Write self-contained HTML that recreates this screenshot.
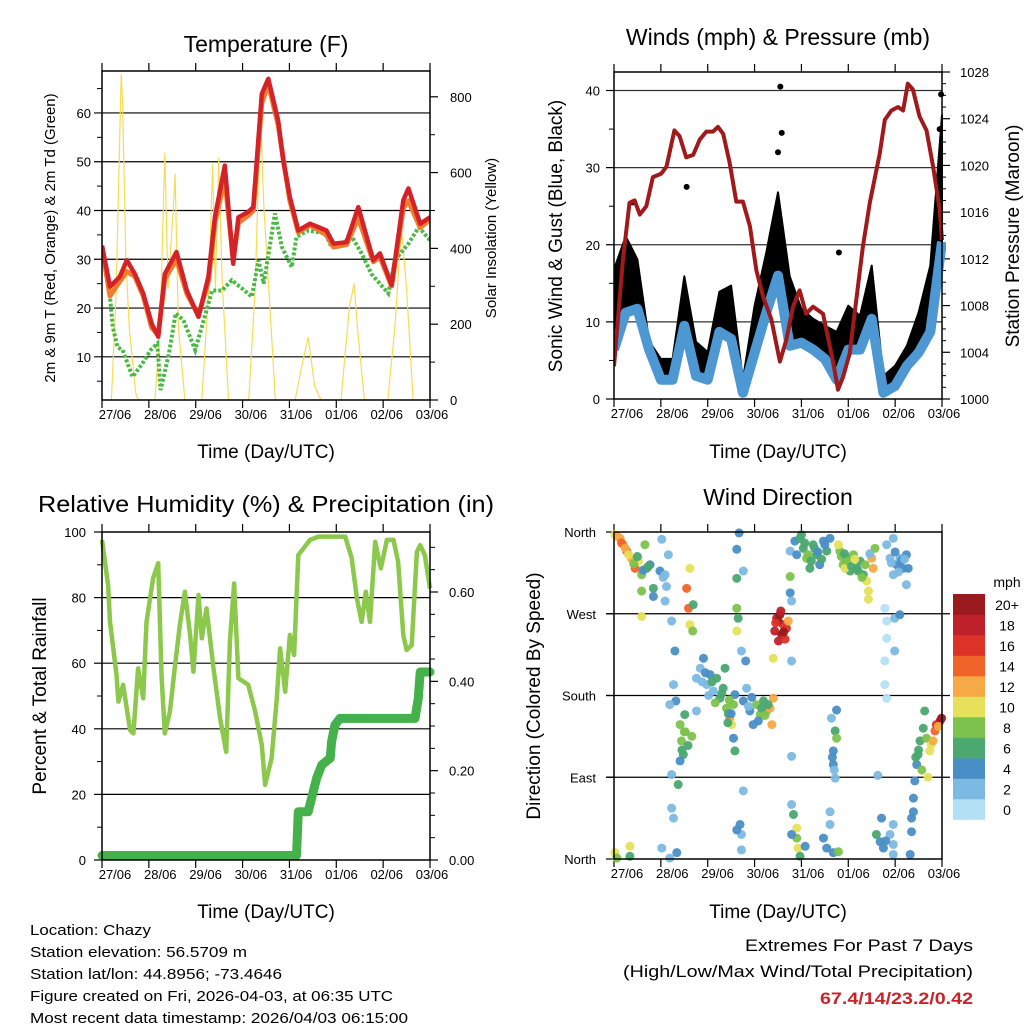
<!DOCTYPE html>
<html><head><meta charset="utf-8"><style>
html,body{margin:0;padding:0;background:#fff;}
svg{display:block;font-family:"Liberation Sans",Arial,sans-serif;}
</style></head><body>
<svg id="chart" width="1024" height="1024" viewBox="0 0 1024 1024" xmlns="http://www.w3.org/2000/svg"></svg>
<script>
// ---------- DATA ----------
const dayLabels = ["27/06","28/06","29/06","30/06","31/06","01/06","02/06","03/06"];
// Temperature panel
const tempTicks = [10,20,30,40,50,60];
const solarTicks = [0,200,400,600,800];
const t2mTime = [0,.17,.38,.53,.70,.88,1.06,1.20,1.34,1.59,1.81,2.06,2.27,2.41,2.62,2.80,2.91,3.12,3.23,3.41,3.55,3.76,3.87,4.01,4.19,4.44,4.79,4.94,5.22,5.47,5.79,5.93,6.18,6.43,6.54,6.79,7];
const t2mVals = [32.8,24.4,26.4,29.8,27,23,16.8,14.1,27,31.5,23.6,18.2,26.4,38.6,49.2,29.1,38.6,39.7,40.7,63.9,67,58.4,50.2,42.7,35.9,37.3,35.9,33.2,33.5,40.7,29.8,31.2,24.7,42.1,44.5,37.3,38.6];
const t9mVals = [32.5,22.5,25.5,27.5,26.5,22.5,16,14.5,26,30,23,18.5,25.5,37.5,46.5,30,37.5,39,40,62,66,57.5,50.5,42,35.5,37,35,32.5,33,38.5,29.5,30.5,24.5,40.5,42,36.5,38.2];
const tdTime = [0,.13,.23,.33,.44,.65,.86,1.04,1.18,1.25,1.43,1.57,1.74,1.99,2.17,2.35,2.56,2.77,2.99,3.2,3.34,3.45,3.59,3.69,3.84,4.05,4.15,4.4,4.76,4.9,5.18,5.29,5.54,5.75,6.11,6.25,6.54,6.76,7];
const tdVals = [32,26.4,16.1,12,11.4,5.9,8.6,11.4,12.7,3.2,10.7,18.9,17.5,11.4,17.5,23.6,23.6,25.7,24,22.3,29.8,25,33.2,39.4,32.5,28.4,34.6,35.9,35.3,32.5,33.2,35.3,31.2,27,23,29.8,33.2,36.6,33.9];
const solarTime = [0,.2,.3,.41,.44,.51,.58,.72,.78,1.13,1.24,1.34,1.41,1.52,1.56,1.63,1.77,2.13,2.28,2.36,2.42,2.49,2.56,2.7,3.13,3.27,3.38,3.45,3.56,3.7,4.12,4.26,4.4,4.54,4.68,5.1,5.28,5.38,5.45,5.6,6.1,6.25,6.39,6.5,6.64,7];
const solarVals = [0,0,281,860,781,368,192,18,0,0,192,652,293,500,597,192,0,0,293,623,293,639,324,0,0,293,763,518,293,0,0,87,166,35,0,0,245,307,192,0,0,192,455,293,0,0];
// Winds panel
const windTicks = [0,10,20,30,40];
const presTicks = [1000,1004,1008,1012,1016,1020,1024,1028];
const windTime = [0,.25,.5,.75,1,1.25,1.5,1.75,2,2.25,2.5,2.75,3,3.25,3.5,3.75,4,4.25,4.5,4.75,5,5.25,5.5,5.75,6,6.25,6.5,6.75,7];
const windVals = [6.4,11.2,11.7,6.4,2.5,2.5,9.5,3,2.5,8.7,7.8,.8,6,11.2,16,6.9,7.3,6.4,5.2,2.5,6.4,6.4,10.4,.8,1.7,4.3,6,8.7,20.4];
const gustVals = [16.8,21.1,18.1,7.5,5.2,5.2,15.9,7.4,6.1,13.9,14.7,2.5,12.1,19,26.8,15.9,11.7,10.4,9.5,8.7,12.1,10.8,17.3,3,4.3,6.9,11.2,17.3,36.8];
const gustOutTime = [3.55,1.55,3.58,3.5,4.8,.4,6.98,6.95];
const gustOutVals = [40.5,27.5,34.5,32,19,25.5,39.5,35];
const presTime = [0,.19,.33,.44,.55,.69,.83,1.01,1.12,1.29,1.40,1.54,1.69,1.83,1.97,2.11,2.22,2.33,2.47,2.61,2.75,2.90,3.04,3.18,3.36,3.54,3.68,3.82,3.96,4.10,4.25,4.46,4.67,4.78,4.89,5.03,5.17,5.31,5.46,5.67,5.78,5.92,6.06,6.17,6.27,6.38,6.52,6.67,6.81,6.95,7];
const presVals = [1002.8,1011.9,1016.8,1017,1015.8,1016.5,1019,1019.3,1019.9,1023,1022.5,1020.7,1020.9,1022.2,1022.9,1022.9,1023.3,1022.7,1020.2,1016.9,1016.9,1014.8,1011,1008.8,1006.8,1003.2,1005.1,1007.9,1009.3,1007.3,1007.9,1007.3,1003.3,1000.8,1001.9,1003.9,1008.5,1013,1016.8,1021,1023.9,1024.7,1025,1024.7,1027,1026.5,1024.2,1023,1019.9,1016.2,1013.6];
// RH panel
const rhTicks = [0,20,40,60,80,100];
const rainTicks = [0,0.2,0.4,0.6];
const rhTime = [0,.13,.17,.31,.35,.45,.6,.67,.77,.88,.95,1.09,1.2,1.27,1.34,1.45,1.56,1.66,1.77,1.88,1.95,2.06,2.13,2.23,2.38,2.52,2.65,2.73,2.82,2.91,3.12,3.27,3.41,3.48,3.62,3.73,3.8,3.91,4.01,4.1,4.19,4.3,4.44,4.62,5.19,5.33,5.44,5.54,5.63,5.72,5.83,5.95,6.08,6.22,6.32,6.43,6.5,6.61,6.72,6.79,6.89,7];
const rhVals = [97.6,83.8,72.6,56.4,48.3,53.4,39.6,38.6,58.4,49.3,72.6,85.9,90.5,56.4,38.6,45.2,59.5,71.6,81.8,68.6,57.4,80.8,67.6,76.7,58.4,43.2,33,66.5,84.3,55.4,53.4,45.2,35.1,22.9,31,49.3,64.5,51.3,68.6,62.5,93,95,97.6,98.6,98.6,92,79.8,72.6,81.8,72.6,97,88.9,97.6,97.6,90.9,68.6,64,65.5,94,96,93,82.8];
const rainTime = [0,4.15,4.19,4.4,4.47,4.58,4.69,4.87,4.9,4.97,5.08,6.68,6.75,6.79,7];
const rainVals = [0.01,0.01,0.108,0.108,0.138,0.183,0.213,0.228,0.265,0.302,0.317,0.317,0.362,0.421,0.421];
// Wind direction panel
const dirNames = ["North","East","South","West","North"];
const dirTicks = [0,90,180,270,360];
const speedBins = ["0","2","4","6","8","10","12","14","16","18","20+"];
const speedColors = ["#b4e0f5","#7cb9e3","#4a8ec6","#4aa870","#7dc24c","#e6e05a","#f5a947","#f0642a","#dc3228","#c0202a","#9b1a1e"];
const dirTime = [.02,.13,.2,.27,.37,.45,.52,.59,.66,.7,.77,.84,.84,.59,.59,1.02,.98,1.09,1.16,1.09,
1.62,1.55,1.59,1.62,1.69,1.68,1.23,1.3,1.27,1.32,1.19,1.23,1.23,1.27,1.19,1.34,
1.41,1.44,1.48,1.41,1.51,1.37,
1.76,1.84,1.91,1.98,2.05,2.12,2.19,2.26,2.33,2.37,2.4,2.47,2.51,2.55,2.58,2.55,2.58,1.76,
2.76,2.83,2.9,2.97,3.04,3.12,3.19,3.26,3.33,3.37,3.4,
2.62,2.62,2.65,2.62,2.76,2.67,2.62,2.72,2.81,2.69,2.72,2.76,2.72,
3.47,3.54,3.61,3.43,3.58,3.68,3.51,3.65,3.72,3.4,
3.76,3.76,3.79,3.76,3.86,3.79,3.79,
3.97,4.04,4.11,4.18,4.25,4.32,4.39,4.47,4.54,4.61,3.9,
4.82,4.89,4.96,5.04,5.11,5.18,5.25,5.32,5.39,5.43,5.43,5.5,5.53,5.57,4.79,4.93,
5.82,5.89,5.96,6.03,6.1,6.17,6.24,6.28,5.78,5.82,5.99,6.1,5.82,5.99,5.78,5.78,5.82,5.96,6.24,
4.64,4.72,4.75,4.68,4.68,4.75,4.72,
3.79,3.83,3.9,3.9,3.93,3.97,3.79,4.08,
4.47,4.54,4.61,4.68,4.79,4.61,
5.6,5.68,5.75,5.89,5.96,5.96,5.71,5.96,
6.32,6.35,6.35,6.39,6.42,6.46,6.49,6.53,6.6,6.63,6.67,6.74,6.77,6.85,6.88,6.96,6.99,6.81,6.39,
.02,.06,.34,.34,1.02,2.62,
.08,.16,.24,.31,.42,.5,.62,.73,1.05,1.12,1.52,1.58,1.66,1.88,1.95,2.02,2.09,2.16,2.3,2.44,2.87,2.94,3.08,3.15,3.22,3.29,
3.5,3.56,3.62,3.45,4.0,4.07,4.14,4.21,4.28,4.35,4.43,4.5,4.85,4.92,5.0,5.07,5.14,5.21,5.29,5.36,5.46,5.92,6.0,6.07,6.14,6.2,
1.45,1.5,2.43,2.5,2.46,4.7,4.66,5.63,5.8,6.44,6.5,6.57,6.7,6.92];
const dirVals = [357,353,346,339,331,320,328,313,346,320,324,298,289,295,267,352,317,313,335,284,
320,298,276,258,280,251,262,229,192,174,170,93,56,45,1,7,
148,130,115,108,159,82,
199,210,221,192,203,185,199,177,188,210,166,155,148,170,181,133,119,163,
174,188,163,148,170,159,174,163,166,148,177,
309,276,265,251,317,359,341,229,218,38,27,75,10,
265,269,258,251,247,254,240,242,262,221,
311,293,284,339,350,218,113,
353,342,331,320,346,335,324,350,339,353,335,
339,324,331,317,335,320,328,313,306,295,286,331,320,342,346,320,
346,331,313,324,331,320,335,320,276,262,265,269,243,229,218,192,177,353,302,
155,141,133,119,104,164,89,
60,49,34,23,12,3,27,14,
23,12,38,7,8,52,
27,19,12,27,16,5,45,38,
5,30,45,67,86,104,115,130,144,163,133,119,126,141,148,152,155,130,52,
7,1,14,3,12,32,
355,348,342,335,325,333,318,322,310,300,140,125,135,195,205,180,195,172,182,160,168,178,152,166,158,170,
262,273,250,260,357,348,335,328,342,338,330,346,333,336,328,322,330,317,310,324,336,326,338,316,329,330,
120,140,150,160,175,98,112,92,20,112,120,98,90,146];
const dirSpeed = [10,12,12,14,12,14,10,8,8,6,4,6,4,8,10,2,4,2,2,2,
10,14,14,10,6,8,2,4,2,4,2,2,2,2,2,4,
8,8,6,4,6,6,
2,2,4,2,4,2,6,6,6,6,8,12,10,8,4,4,6,2,
4,2,4,4,8,8,6,8,12,12,12,
6,8,6,10,2,4,4,2,4,4,2,2,2,
18,20,16,18,20,16,18,16,12,10,
8,4,2,2,4,2,2,
6,6,8,6,6,6,4,4,6,4,4,
8,8,6,6,8,6,6,6,10,10,10,12,12,8,10,10,
2,2,2,4,2,4,4,4,0,0,2,4,0,2,0,0,0,2,2,
2,6,8,4,4,4,2,
2,6,10,8,10,6,4,4,
4,4,2,4,8,2,
6,4,4,2,2,2,4,2,
4,4,4,4,4,4,6,6,6,6,8,10,10,14,16,18,20,12,4,
10,8,10,6,2,4,
12,14,12,10,8,6,4,6,2,2,8,6,8,2,4,2,6,8,6,6,2,4,4,6,8,6,
20,18,20,16,6,6,8,6,6,4,6,4,8,6,8,6,10,6,8,8,2,2,4,2,4,2,
6,8,6,4,8,2,4,2,4,6,6,8,10,12];

// ---------- HELPERS ----------
const NS = "http://www.w3.org/2000/svg";
const svg = document.getElementById("chart");
function mk(tag, attrs, parent){ const e=document.createElementNS(NS,tag); for(const k in attrs) e.setAttribute(k,attrs[k]); (parent||svg).appendChild(e); return e; }
function lin(d0,d1,r0,r1){ return v => r0 + (v-d0)/(d1-d0)*(r1-r0); }
function txt(x,y,s,size,opts,parent){ const t=mk("text",Object.assign({x:x,y:y,"font-size":size,fill:"#000"},opts||{}),parent); t.textContent=s; return t; }
function pathOf(xs,ys,sx,sy){ return xs.map((t,i)=>(i?"L":"M")+sx(t).toFixed(1)+","+sy(ys[i]).toFixed(1)).join(""); }
function inY(y,T,B){ return y>=T-0.5 && y<=B+0.5; }

function frame(name){
  const g=mk("g",{});
  
  
  return g;
}
function xAxis(g,L,R,B,T,tickName){
  const sx=lin(0,7,L,R);
  for(let d=0; d<=7; d++){
    mk("line",{x1:sx(d),x2:sx(d),y1:B,y2:B+8,stroke:"#000","stroke-width":1.2},g);
    mk("line",{x1:sx(d),x2:sx(d),y1:T,y2:T-8,stroke:"#000","stroke-width":1.2},g);
  }
  const lx=lin(0,7,L+13,R+2);
  dayLabels.forEach((s,i)=>{ const t=txt(lx(i),B+19,s,13,{"text-anchor":"middle"},g);
    
     });
  return sx;
}
function border(g,L,T,R,B){ mk("rect",{x:L,y:T,width:R-L,height:B-T,fill:"none",stroke:"#000","stroke-width":1.5},g); }

// ---------- PANEL 1: TEMPERATURE ----------
(function(){
  const L=102,T=71,R=430,B=400;
  const g=frame("temperature-panel");
  const sy=lin(0,68.6,405.6,71), sy2=lin(0,868,400,71);
  const cp=mk("clipPath",{id:"clipT"},g); mk("rect",{x:L,y:T,width:R-L,height:B-T},cp);
  tempTicks.forEach(v=>{ const l=mk("line",{x1:L-8,x2:R,y1:sy(v),y2:sy(v),stroke:"#000","stroke-width":1.2},g);
     
    const t=txt(L-11,sy(v)+5,String(v),13,{"text-anchor":"end"},g);
     
    if(inY(sy(v+5),T,B)) mk("line",{x1:L-5,x2:L,y1:sy(v+5),y2:sy(v+5),stroke:"#000"},g); });
  mk("line",{x1:L-5,x2:L,y1:sy(5),y2:sy(5),stroke:"#000"},g);
  solarTicks.forEach(v=>{ mk("line",{x1:R,x2:R+8,y1:sy2(v),y2:sy2(v),stroke:"#000","stroke-width":1.2},g);
    if(inY(sy2(v+100),T,B)) mk("line",{x1:R,x2:R+5,y1:sy2(v+100),y2:sy2(v+100),stroke:"#000"},g);
    const t=txt(R+20,sy2(v)+5,String(v),13,{},g);
      });
  const sx=xAxis(g,L,R,B,T,"temp-x-tick");
  const pg=mk("g",{"clip-path":"url(#clipT)"},g);
  const sol=mk("path",{d:pathOf(solarTime,solarVals,sx,sy2),fill:"none",stroke:"#f7dc52","stroke-width":1.2},pg);
   
  const td=mk("path",{d:pathOf(tdTime,tdVals,sx,sy),fill:"none",stroke:"#4cb848","stroke-width":4,"stroke-dasharray":"3 2"},pg);
   
  const t9=mk("path",{d:pathOf(t2mTime,t9mVals,sx,sy),fill:"none",stroke:"#f07c2c","stroke-width":5,"stroke-linejoin":"round"},pg);
   
  const t2=mk("path",{d:pathOf(t2mTime,t2mVals,sx,sy),fill:"none",stroke:"#d42328","stroke-width":4.5,"stroke-linejoin":"round"},pg);
   
  border(g,L,T,R,B);
  let t=txt(266,52,"Temperature (F)",23,{"text-anchor":"middle"},g);  
  t=txt(266,458,"Time (Day/UTC)",19,{"text-anchor":"middle"},g);  
  t=txt(0,0,"2m & 9m T (Red, Orange) & 2m Td (Green)",15,{"text-anchor":"middle",transform:"translate(55,238) rotate(-90)"},g);  
  t=txt(0,0,"Solar Insolation (Yellow)",15,{"text-anchor":"middle",transform:"translate(496,238) rotate(-90)"},g);  
})();

// ---------- PANEL 2: WINDS ----------
(function(){
  const L=614,T=72,R=942,B=399;
  const g=frame("winds-panel");
  const sy=lin(0,42.4,399,72), sy2=lin(1000,1028,399,72);
  const cp=mk("clipPath",{id:"clipW"},g); mk("rect",{x:L,y:T-4,width:R-L+4,height:B-T+4},cp);
  windTicks.forEach(v=>{ if(v>0){ const l=mk("line",{x1:L,x2:R,y1:sy(v),y2:sy(v),stroke:"#333","stroke-width":1.2},g);
        }
    mk("line",{x1:L-8,x2:L,y1:sy(v),y2:sy(v),stroke:"#000","stroke-width":1.2},g);
    if(inY(sy(v+5),T,B)) mk("line",{x1:L-5,x2:L,y1:sy(v+5),y2:sy(v+5),stroke:"#000"},g);
    const t=txt(L-14,sy(v)+5,String(v),13,{"text-anchor":"end"},g);
      });
  presTicks.forEach(v=>{ mk("line",{x1:R,x2:R+8,y1:sy2(v),y2:sy2(v),stroke:"#000","stroke-width":1.2},g);
    for(let k=1;k<4;k++) if(inY(sy2(v+k),T,B)) mk("line",{x1:R,x2:R+4,y1:sy2(v+k),y2:sy2(v+k),stroke:"#000"},g);
    const t=txt(R+18,sy2(v)+5,String(v),13,{},g);
      });
  const sx=xAxis(g,L,R,B,T,"wind-x-tick");
  const pg=mk("g",{"clip-path":"url(#clipW)"},g);
  let d=windTime.map((t,i)=>(i?"L":"M")+sx(t).toFixed(1)+","+sy(gustVals[i]).toFixed(1)).join("");
  for(let i=windTime.length-1;i>=0;i--) d+="L"+sx(windTime[i]).toFixed(1)+","+sy(windVals[i]).toFixed(1);
  const gb=mk("path",{d:d+"Z",fill:"#000",stroke:"#000","stroke-width":2,"stroke-linejoin":"round"},pg);
   
  gustOutTime.forEach((t,i)=>{ const c=mk("circle",{cx:sx(t),cy:sy(gustOutVals[i]),r:3,fill:"#000"},pg);
      });
  const wl=mk("path",{d:pathOf(windTime,windVals,sx,sy),fill:"none",stroke:"#4d97d3","stroke-width":10,"stroke-linejoin":"round"},pg);
   
  const pl=mk("path",{d:pathOf(presTime,presVals,sx,sy2),fill:"none",stroke:"#a01a1c","stroke-width":4,"stroke-linejoin":"round"},pg);
   
  border(g,L,T,R,B);
  let t=txt(778,45,"Winds (mph) & Pressure (mb)",23,{"text-anchor":"middle"},g);  
  t=txt(778,458,"Time (Day/UTC)",19,{"text-anchor":"middle"},g);  
  t=txt(0,0,"Sonic Wind & Gust (Blue, Black)",19,{"text-anchor":"middle",transform:"translate(562,236) rotate(-90)"},g);  
  t=txt(0,0,"Station Pressure (Maroon)",19,{"text-anchor":"middle",transform:"translate(1019,236) rotate(-90)"},g);  
})();

// ---------- PANEL 3: RH & PRECIP ----------
(function(){
  const L=102,T=532,R=430,B=860;
  const g=frame("humidity-panel");
  const sy=lin(0,100,860,532), sy2=lin(0,0.6,860,592);
  rhTicks.forEach(v=>{ if(v>0&&v<100){ const l=mk("line",{x1:L,x2:R,y1:sy(v),y2:sy(v),stroke:"#000","stroke-width":1.2},g);
        }
    mk("line",{x1:L-8,x2:L,y1:sy(v),y2:sy(v),stroke:"#000","stroke-width":1.2},g);
    if(v<100) mk("line",{x1:L-5,x2:L,y1:sy(v+10),y2:sy(v+10),stroke:"#000"},g);
    const t=txt(L-16,sy(v)+5,String(v),13,{"text-anchor":"end"},g);
      });
  rainTicks.forEach(v=>{ mk("line",{x1:R,x2:R+8,y1:sy2(v),y2:sy2(v),stroke:"#000","stroke-width":1.2},g);
    for(let k=1;k<4;k++) if(inY(sy2(v+k*0.05),T,B)) mk("line",{x1:R,x2:R+5,y1:sy2(v+k*0.05),y2:sy2(v+k*0.05),stroke:"#000"},g);
    const t=txt(R+19,sy2(v)+5,v.toFixed(2),13,{},g);
      });
  const sx=xAxis(g,L,R,B,T,"rh-x-tick");
  const rh=mk("path",{d:pathOf(rhTime,rhVals,sx,sy),fill:"none",stroke:"#8cc84b","stroke-width":4.5,"stroke-linejoin":"round"},g);
   
  const rn=mk("path",{d:pathOf(rainTime,rainVals,sx,sy2),fill:"none",stroke:"#44b14a","stroke-width":9,"stroke-linejoin":"round","stroke-linecap":"round"},g);
   
  border(g,L,T,R,B);
  let t=txt(266,512,"Relative Humidity (%) & Precipitation (in)",23,{"text-anchor":"middle",textLength:456,lengthAdjust:"spacingAndGlyphs"},g);  
  t=txt(266,918,"Time (Day/UTC)",19,{"text-anchor":"middle"},g);  
  t=txt(0,0,"Percent & Total Rainfall",19,{"text-anchor":"middle",transform:"translate(46,696) rotate(-90)"},g);  
})();

// ---------- PANEL 4: WIND DIRECTION ----------
(function(){
  const L=614,T=532,R=942,B=859;
  const g=frame("wind-direction-panel");
  const sy=lin(0,360,B,T);
  dirTicks.forEach((v,i)=>{ if(v>0&&v<360){ const l=mk("line",{x1:L-8,x2:R+8,y1:sy(v),y2:sy(v),stroke:"#000","stroke-width":1.2},g);
        }
    mk("line",{x1:L-8,x2:L,y1:sy(v),y2:sy(v),stroke:"#000","stroke-width":1.2},g);
    const t=txt(L-18,sy(v)+5,dirNames[i],13,{"text-anchor":"end"},g);
      });
  const sx=xAxis(g,L,R,B,T,"direction-x-tick");
  dirTime.forEach((t,i)=>{ const bin=Math.min(10,Math.floor(dirSpeed[i]/2));
    const c=mk("circle",{cx:sx(t),cy:sy(dirVals[i]),r:4.5,fill:speedColors[bin],"fill-opacity":0.95},g);
      });
  border(g,L,T,R,B);
  const cb=mk("g",{},g);
   
  const bh=20.5, top=594;
  speedBins.forEach((s,i)=>{ const j=10-i;
    const r=mk("rect",{x:953,y:top+j*bh,width:32,height:bh+0.3,fill:speedColors[i]},cb);
     
    const t=txt(1007,top+j*bh+16,s,14,{"text-anchor":"middle"},cb);
      });
  let t=txt(1007,587,"mph",14,{"text-anchor":"middle"},cb);  
  t=txt(778,505,"Wind Direction",23,{"text-anchor":"middle"},g);  
  t=txt(778,918,"Time (Day/UTC)",19,{"text-anchor":"middle"},g);  
  t=txt(0,0,"Direction (Colored By Speed)",19,{"text-anchor":"middle",transform:"translate(540,696) rotate(-90)"},g);  
})();

// ---------- FOOTER ----------
(function(){
  const g=mk("g",{});
   
  const lines=["Location: Chazy","Station elevation: 56.5709 m","Station lat/lon: 44.8956; -73.4646","Figure created on Fri, 2026-04-03, at 06:35 UTC","Most recent data timestamp: 2026/04/03 06:15:00"];
  const lens=[121,217,252,363,378];
  lines.forEach((s,i)=>{ const t=txt(30,935+i*22,s,14.5,{textLength:lens[i],lengthAdjust:"spacingAndGlyphs"},g);
      });
  const g2=mk("g",{});
   
  let t=txt(973,951,"Extremes For Past 7 Days",17,{"text-anchor":"end",textLength:228,lengthAdjust:"spacingAndGlyphs"},g2);  
  t=txt(973,977,"(High/Low/Max Wind/Total Precipitation)",17,{"text-anchor":"end",textLength:350,lengthAdjust:"spacingAndGlyphs"},g2);  
  t=txt(973,1004,"67.4/14/23.2/0.42",17,{"text-anchor":"end","font-weight":"bold",fill:"#c8242c",textLength:153,lengthAdjust:"spacingAndGlyphs"},g2);  
})();
</script>
</body></html>
